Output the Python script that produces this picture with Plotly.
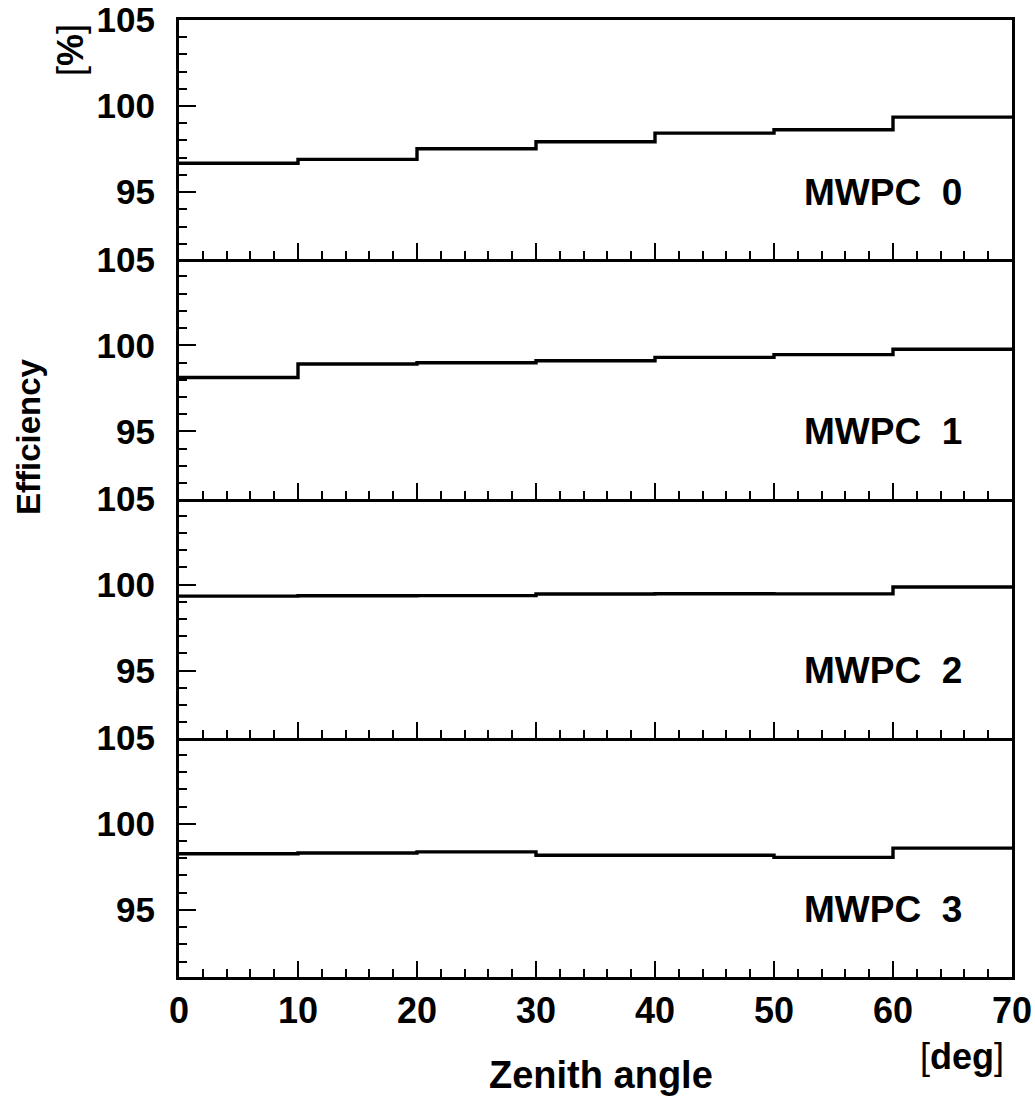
import plotly.graph_objects as go

# Bin edges (zenith angle, deg)
bin_edges = [0, 10, 20, 30, 40, 50, 60, 70]

# Efficiency [%] per 10-degree bin
mwpc0 = [96.68, 96.90, 97.52, 97.93, 98.43, 98.62, 99.36]
mwpc1 = [98.13, 98.91, 98.99, 99.10, 99.30, 99.46, 99.77]
mwpc2 = [99.33, 99.35, 99.36, 99.45, 99.47, 99.46, 99.86]
mwpc3 = [98.26, 98.30, 98.37, 98.17, 98.17, 98.05, 98.59]

panel_names = ["MWPC  0", "MWPC  1", "MWPC  2", "MWPC  3"]
series = [mwpc0, mwpc1, mwpc2, mwpc3]

FONT = "Liberation Sans"
W, H = 1035, 1099
L, R, T, B = 179, 23, 20, 122
pw = W - L - R
ph = H - T - B

fig = go.Figure()
n = len(series)
for i, vals in enumerate(series):
    k = i + 1
    xs = list(bin_edges)
    ys = list(vals) + [vals[-1]]
    fig.add_trace(go.Scatter(
        x=xs, y=ys, mode="lines", line=dict(shape="hv", color="black", width=3.4),
        xaxis="x" if k == 1 else f"x{k}", yaxis="y" if k == 1 else f"y{k}",
        showlegend=False, hoverinfo="skip"))

layout = dict(
    width=W, height=H,
    margin=dict(l=L, r=R, t=T, b=B, autoexpand=False),
    paper_bgcolor="white", plot_bgcolor="white",
    showlegend=False,
)

for i in range(n):
    k = i + 1
    top = 1 - i / n
    bot = 1 - (i + 1) / n
    xname = "xaxis" if k == 1 else f"xaxis{k}"
    yname = "yaxis" if k == 1 else f"yaxis{k}"
    ya = "y" if k == 1 else f"y{k}"
    xa = "x" if k == 1 else f"x{k}"
    layout[xname] = dict(
        domain=[0, 1], anchor=ya, range=[0, 70],
        tickmode="linear", tick0=0, dtick=10,
        ticks="inside", ticklen=16, tickwidth=2, tickcolor="black",
        minor=dict(tickmode="linear", tick0=0, dtick=2, ticks="inside",
                   ticklen=8, tickwidth=1.5, tickcolor="black"),
        showline=True, linewidth=3, linecolor="black", mirror=(k == 1),
        showgrid=False, zeroline=False, automargin=False,
        showticklabels=(k == n),
        tickfont=dict(family=FONT, size=36, color="black", weight="bold"),
        ticklabelstandoff=0,
    )
    if k != 1:
        layout[xname]["matches"] = "x"
    layout[yname] = dict(
        domain=[bot, top], anchor=xa, range=[91.1, 105],
        tickmode="linear", tick0=0, dtick=5,
        ticks="inside", ticklen=17, tickwidth=2, tickcolor="black",
        minor=dict(tickmode="linear", tick0=0, dtick=1, ticks="inside",
                   ticklen=8, tickwidth=1.5, tickcolor="black"),
        showline=True, linewidth=3, linecolor="black", mirror=True,
        showgrid=False, zeroline=False, automargin=False,
        tickfont=dict(family=FONT, size=35, color="black", weight="bold"),
        ticklabelstandoff=14,
    )

fig.update_layout(**layout)

ann = []
for i, name in enumerate(panel_names):
    k = i + 1
    ann.append(dict(
        text=name, x=66, y=95,
        xref="x" if k == 1 else f"x{k}", yref="y" if k == 1 else f"y{k}",
        xanchor="right", yanchor="middle", showarrow=False,
        font=dict(family=FONT, size=37, color="black", weight="bold")))

def px(xp):
    return (xp - L) / pw

def py(yp):
    return (H - B - yp) / ph

ann.append(dict(text="Efficiency", x=px(28), y=py(437), xref="paper", yref="paper",
                textangle=-90, showarrow=False, xanchor="center", yanchor="middle",
                font=dict(family=FONT, size=33, color="black", weight="bold")))
ann.append(dict(text="[<b>%</b>]", x=px(70), y=py(50), xref="paper", yref="paper",
                textangle=-90, showarrow=False, xanchor="center", yanchor="middle",
                font=dict(family=FONT, size=36, color="black")))
ann.append(dict(text="Zenith angle", x=px(601), y=py(1075), xref="paper", yref="paper",
                showarrow=False, xanchor="center", yanchor="middle",
                font=dict(family=FONT, size=38, color="black", weight="bold")))
ann.append(dict(text="[<b>deg</b>]", x=px(962), y=py(1056), xref="paper", yref="paper",
                showarrow=False, xanchor="center", yanchor="middle",
                font=dict(family=FONT, size=36, color="black")))

fig.update_layout(annotations=ann)
fig.write_html("out.html")
